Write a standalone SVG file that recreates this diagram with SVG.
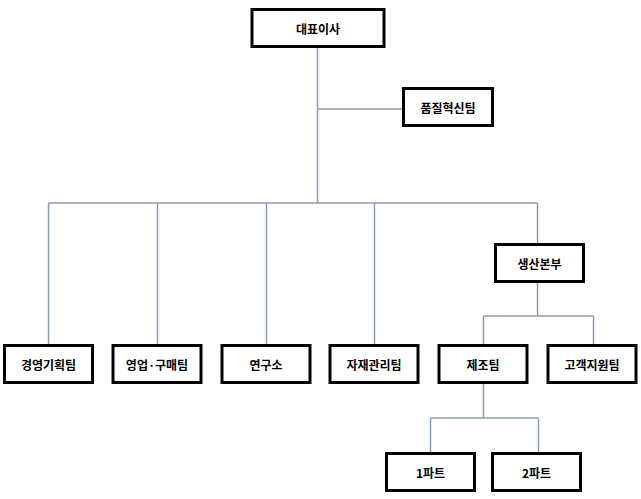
<svg xmlns="http://www.w3.org/2000/svg" width="641" height="499" viewBox="0 0 641 499">
<style>
.box{fill:#fff;stroke:#000;stroke-width:3}
.lbl{font-family:"Noto Sans CJK KR","Noto Sans",sans-serif;font-size:12px;font-weight:bold;fill:#000;text-anchor:middle;dominant-baseline:central}
.ln{fill:none;stroke:#8e9cb3;stroke-width:1.5}
</style>
<rect width="641" height="499" fill="#fff"/>
<g id="connectors">
<path class="ln" d="M317.5,47 V203 M317.5,109 H403 M48.5,203 H537.5 M48.5,203 V345 M157.5,203 V345 M266.5,203 V345 M374.5,203 V345 M537.5,203 V244 M537.5,282 V316 M483.5,316 H593.5 M483.5,316 V345 M593.5,316 V345 M483.5,383 V418 M430.5,418 H538.5 M430.5,418 V453 M538.5,418 V453"/>
</g>
<g id="n_ceo"><rect class="box" x="252" y="9.5" width="132" height="37"/><text class="lbl" x="318" y="28">대표이사</text></g>
<g id="n_quality"><rect class="box" x="403.5" y="88.5" width="89" height="37"/><text class="lbl" x="448" y="107">품질혁신팀</text></g>
<g id="n_prod"><rect class="box" x="495.5" y="244.5" width="88" height="37"/><text class="lbl" x="539.5" y="263">생산본부</text></g>
<g id="n_mgmt"><rect class="box" x="4.5" y="345.5" width="88" height="37"/><text class="lbl" x="48.5" y="364">경영기획팀</text></g>
<g id="n_sales"><rect class="box" x="113" y="345.5" width="88" height="37"/><text class="lbl" x="157" y="364">영업·구매팀</text></g>
<g id="n_lab"><rect class="box" x="222" y="345.5" width="88" height="37"/><text class="lbl" x="266" y="364">연구소</text></g>
<g id="n_material"><rect class="box" x="330" y="345.5" width="88" height="37"/><text class="lbl" x="374" y="364">자재관리팀</text></g>
<g id="n_mfg"><rect class="box" x="439" y="345.5" width="88" height="37"/><text class="lbl" x="483" y="364">제조팀</text></g>
<g id="n_cs"><rect class="box" x="548" y="345.5" width="88" height="37"/><text class="lbl" x="592" y="364">고객지원팀</text></g>
<g id="n_p1"><rect class="box" x="386.5" y="453.5" width="88" height="37"/><text class="lbl" x="430.5" y="472">1파트</text></g>
<g id="n_p2"><rect class="box" x="492.5" y="453.5" width="88" height="37"/><text class="lbl" x="536.5" y="472">2파트</text></g>
</svg>
